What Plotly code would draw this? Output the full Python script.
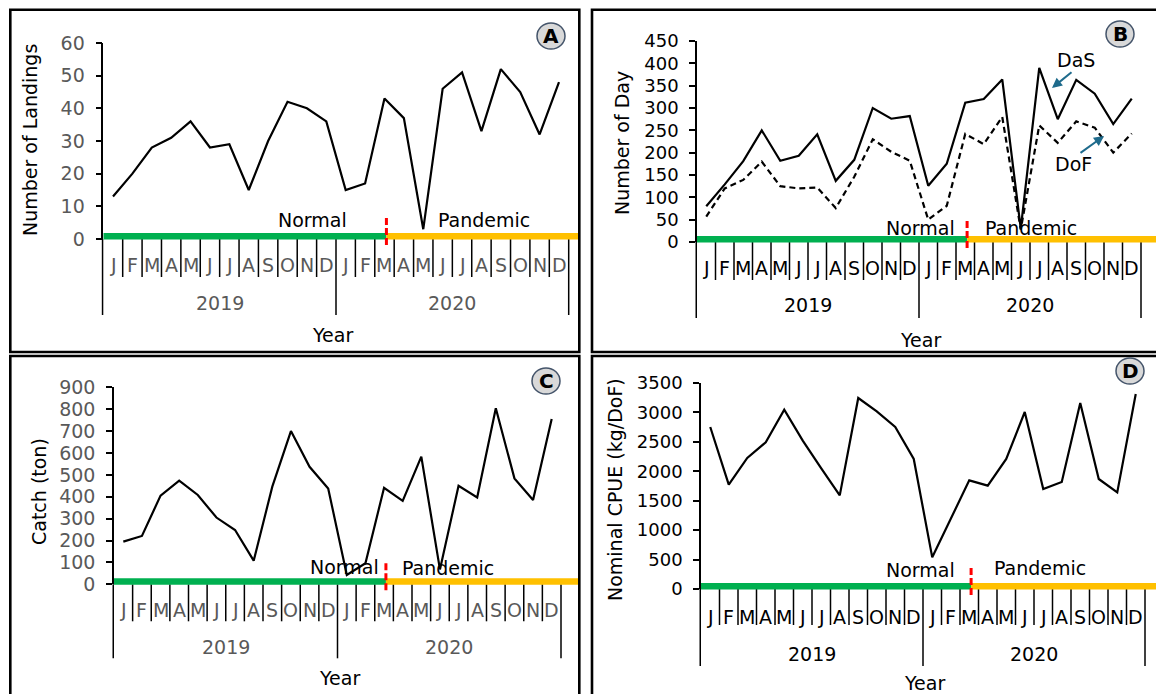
import plotly.graph_objects as go

W, H = 1156, 694

# ---------------- data ----------------
months = ["J", "F", "M", "A", "M", "J", "J", "A", "S", "O", "N", "D"] * 2
years = ["2019", "2020"]
landings = [13, 20, 28, 31, 36, 28, 29, 15, 30, 42, 40, 36,
            15, 17, 43, 37, 3, 46, 51, 33, 52, 45, 32, 48]
das = [80, 129, 181, 250, 182, 193, 241, 137, 184, 300, 276, 282,
       126, 175, 312, 320, 364, 30, 390, 275, 363, 332, 264, 321]
dof = [57, 120, 139, 180, 125, 120, 122, 76, 146, 230, 202, 182,
       50, 81, 242, 219, 280, 28, 261, 222, 270, 256, 200, 243]
catch = [195, 221, 405, 474, 408, 305, 248, 108, 446, 700, 537, 438,
         43, 96, 441, 381, 583, 68, 450, 397, 804, 484, 385, 755]
cpue = [2752, 1773, 2226, 2492, 3047, 2520, 2050, 1591, 3245, 3019, 2752, 2209,
        538, 1178, 1846, 1756, 2209, 3007, 1699, 1818, 3160, 1869, 1642, 3313]
split_month = 14.6  # start of pandemic period (mid March 2020)

FONT = "DejaVu Sans"
GRAY = "#595959"
GREEN = "#00b050"
ORANGE = "#ffc000"


def fx(p):
    return p / W


def fy(p):
    return 1 - p / H


panels = [
    dict(letter="A", series=[("", landings, "solid")], ymax=60, dtick=10,
         ax_l=103.3, m_end=568.7, x_end=578.5, y0=239, ytop=43, col=GRAY, tfs=19,
         ytitle="Number of Landings", yt=(30, 140), year_y=303, yr_title=(332, 335),
         normal=(312, 220), pand=(484, 220), badge=(551, 36), mdiv=38, ydiv=76, mlab=26,
         border=(10.3, 9.7, 579.3, 352)),
    dict(letter="B", series=[("DaS", das, "solid"), ("DoF", dof, "6px,4px")], ymax=450, dtick=50,
         ax_l=697, m_end=1141, x_end=1156, y0=242, ytop=41, col="black", tfs=18,
         ytitle="Number of Day", yt=(622, 143), year_y=305, yr_title=(920, 340),
         normal=(920, 228), pand=(1031, 228), badge=(1120, 34), mdiv=38, ydiv=76, mlab=26,
         border=(592, 9.7, 1175, 352)),
    dict(letter="C", series=[("", catch, "solid")], ymax=900, dtick=100,
         ax_l=114, m_end=561, x_end=578.5, y0=584.3, ytop=387.3, col=GRAY, tfs=19,
         ytitle="Catch (ton)", yt=(39, 492), year_y=647, yr_title=(339, 678),
         normal=(344, 567), pand=(448, 568), badge=(546, 381), mdiv=37, ydiv=74, mlab=26,
         border=(10.3, 356, 579.3, 720)),
    dict(letter="D", series=[("", cpue, "solid")], ymax=3500, dtick=500,
         ax_l=701, m_end=1145, x_end=1156, y0=589, ytop=383, col="black", tfs=18,
         ytitle="Nominal CPUE (kg/DoF)", yt=(615, 490), year_y=654, yr_title=(924, 683),
         normal=(920, 570), pand=(1040, 568), badge=(1130, 371), mdiv=36, ydiv=77, mlab=28,
         border=(592, 356, 1175, 720)),
]

fig = go.Figure()
shapes = []
annotations = []
layout = {}

xpos = [i + 0.5 for i in range(len(months))]

for k, p in enumerate(panels):
    n = "" if k == 0 else str(k + 1)
    xa, ya = "x" + n, "y" + n
    mw = (p["m_end"] - p["ax_l"]) / 24.0
    R = (p["x_end"] - p["ax_l"]) / mw
    layout["xaxis" + n] = dict(domain=[fx(p["ax_l"]), fx(p["x_end"])], range=[0, R], anchor=ya,
                               showline=False, showgrid=False, zeroline=False, ticks="",
                               showticklabels=False, fixedrange=True, automargin=False)
    layout["yaxis" + n] = dict(domain=[fy(p["y0"]), fy(p["ytop"])], range=[0, p["ymax"]], anchor=xa,
                               dtick=p["dtick"], showline=True, linecolor="black", linewidth=1.5,
                               ticks="outside", ticklen=6, tickwidth=1.5, tickcolor="black",
                               showgrid=False, zeroline=False, fixedrange=True, automargin=False,
                               ticklabelstandoff=7,
                               tickfont=dict(family=FONT, size=p["tfs"], color=p["col"]))
    for name, vals, dash in p["series"]:
        fig.add_trace(go.Scatter(x=xpos, y=vals, mode="lines", name=name, xaxis=xa, yaxis=ya,
                                 line=dict(color="black", width=2.2, dash=dash), showlegend=False,
                                 hoverinfo="skip"))

    y0 = p["y0"]
    dom_px = p["x_end"] - p["ax_l"]
    # category dividers
    for i in range(0, 25):
        length = p["ydiv"] if i % 12 == 0 else p["mdiv"]
        if i == 0:
            shapes.append(dict(type="line", xref=xa + " domain", yref="paper",
                               x0=-0.75 / dom_px, x1=-0.75 / dom_px,
                               y0=fy(y0), y1=fy(y0 + length), line=dict(color="black", width=1.5)))
        else:
            shapes.append(dict(type="line", xref=xa, yref="paper", x0=i, x1=i,
                               y0=fy(y0), y1=fy(y0 + length), line=dict(color="black", width=1.5)))
    # period bars
    shapes.append(dict(type="rect", xref=xa, yref="paper", x0=0, x1=split_month,
                       y0=fy(y0 + 0.5), y1=fy(y0 - 6), fillcolor=GREEN, line=dict(width=0), layer="above"))
    shapes.append(dict(type="rect", xref=xa, yref="paper", x0=split_month, x1=R,
                       y0=fy(y0 + 0.5), y1=fy(y0 - 6), fillcolor=ORANGE, line=dict(width=0), layer="above"))
    shapes.append(dict(type="line", xref=xa, yref="paper", x0=split_month, x1=split_month,
                       y0=fy(y0 - 21), y1=fy(y0 + 8), line=dict(color="#ff0000", width=3, dash="7px,3px"),
                       layer="above"))
    # panel border
    bx0, by0, bx1, by1 = p["border"]
    shapes.append(dict(type="rect", xref="paper", yref="paper", x0=fx(bx0), x1=fx(bx1),
                       y0=fy(by1), y1=fy(by0), line=dict(color="black", width=2.6)))
    # badge
    cx, cy = p["badge"]
    shapes.append(dict(type="circle", xref="paper", yref="paper", x0=fx(cx - 14), x1=fx(cx + 14),
                       y0=fy(cy + 13), y1=fy(cy - 13), fillcolor="#d9d9d9",
                       line=dict(color="#44546a", width=1.5)))
    annotations.append(dict(xref="paper", yref="paper", x=fx(cx), y=fy(cy), text="<b>%s</b>" % p["letter"],
                            showarrow=False, font=dict(family=FONT, size=20, color="black"),
                            xanchor="center", yanchor="middle"))
    # month labels
    for i, m in enumerate(months):
        annotations.append(dict(xref=xa, yref="paper", x=i + 0.5, y=fy(y0 + p["mlab"]), text=m,
                                showarrow=False, font=dict(family=FONT, size=19, color=p["col"]),
                                xanchor="center", yanchor="middle"))
    # year labels
    for j, yr in enumerate(years):
        annotations.append(dict(xref=xa, yref="paper", x=12 * j + 6, y=fy(p["year_y"]), text=yr,
                                showarrow=False, font=dict(family=FONT, size=19, color=p["col"]),
                                xanchor="center", yanchor="middle"))
    # titles
    annotations.append(dict(xref="paper", yref="paper", x=fx(p["yr_title"][0]), y=fy(p["yr_title"][1]),
                            text="Year", showarrow=False, font=dict(family=FONT, size=19, color="black"),
                            xanchor="center", yanchor="middle"))
    annotations.append(dict(xref="paper", yref="paper", x=fx(p["yt"][0]), y=fy(p["yt"][1]),
                            text=p["ytitle"], textangle=-90, showarrow=False,
                            font=dict(family=FONT, size=19, color="black"),
                            xanchor="center", yanchor="middle"))
    annotations.append(dict(xref="paper", yref="paper", x=fx(p["normal"][0]), y=fy(p["normal"][1]),
                            text="Normal", showarrow=False, font=dict(family=FONT, size=19, color="black"),
                            xanchor="center", yanchor="middle"))
    annotations.append(dict(xref="paper", yref="paper", x=fx(p["pand"][0]), y=fy(p["pand"][1]),
                            text="Pandemic", showarrow=False, font=dict(family=FONT, size=19, color="black"),
                            xanchor="center", yanchor="middle"))

# DaS / DoF labels with arrows (panel B)
ARROW = "#1f6b8c"
annotations.append(dict(xref="paper", yref="paper", x=fx(1076), y=fy(60), text="DaS", showarrow=False,
                        font=dict(family=FONT, size=19, color="black"), xanchor="center", yanchor="middle"))
annotations.append(dict(xref="paper", yref="paper", x=fx(1073), y=fy(164), text="DoF", showarrow=False,
                        font=dict(family=FONT, size=19, color="black"), xanchor="center", yanchor="middle"))
annotations.append(dict(xref="paper", yref="paper", x=fx(1052), y=fy(88), ax=21, ay=-17, text="",
                        showarrow=True, arrowhead=2, arrowsize=1, arrowwidth=2, arrowcolor=ARROW))
annotations.append(dict(xref="paper", yref="paper", x=fx(1104), y=fy(136), ax=-25, ay=18, text="",
                        showarrow=True, arrowhead=2, arrowsize=1, arrowwidth=2, arrowcolor=ARROW))

fig.update_layout(template="none", width=W, height=H,
                  margin=dict(l=0, r=0, t=0, b=0, pad=0, autoexpand=False),
                  paper_bgcolor="white", plot_bgcolor="rgba(0,0,0,0)",
                  shapes=shapes, annotations=annotations, showlegend=False,
                  font=dict(family=FONT), **layout)

fig.write_html("out.html")
